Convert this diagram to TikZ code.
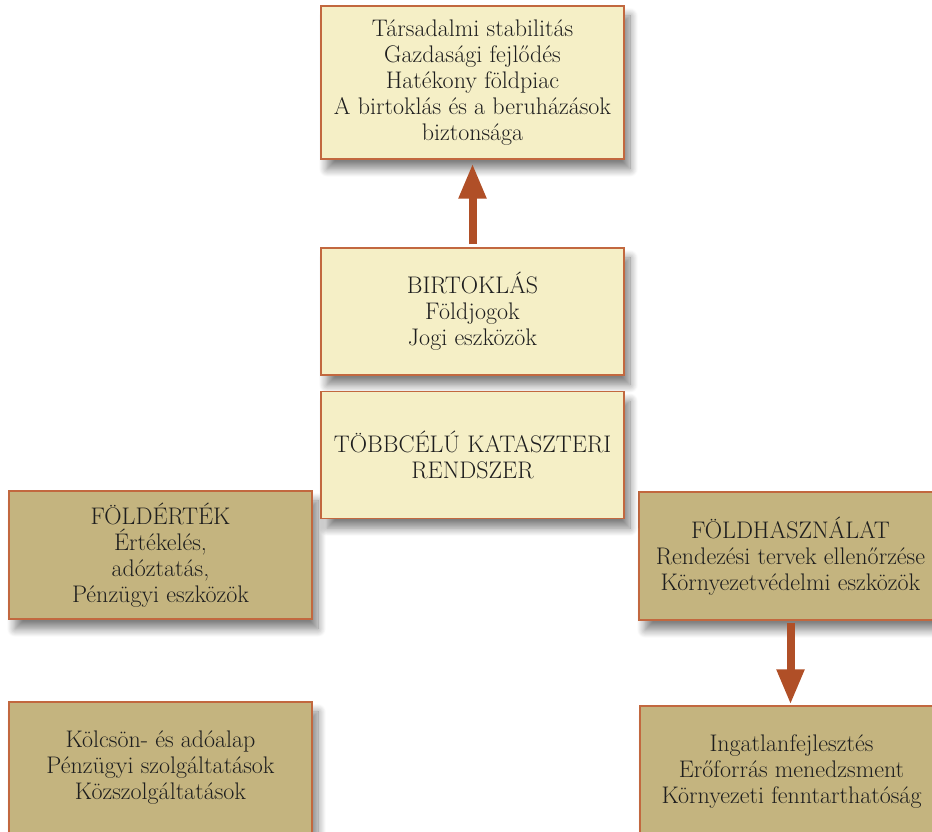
\documentclass[tikz,border=0pt]{standalone}
\usepackage{amsmath,amssymb}
\usepackage{tikz}
\usetikzlibrary{positioning,arrows.meta,shadows.blur}
\definecolor{lightbox}{HTML}{F5EFC6}
\definecolor{tanbox}{HTML}{C4B47F}
\definecolor{boxline}{HTML}{C2683F}
\definecolor{arrowcol}{HTML}{B04F27}
\definecolor{textcol}{HTML}{1E1E1E}
\begin{document}
\begin{tikzpicture}[x=1pt, y=1pt, node distance=15pt,
	box/.style={rectangle, draw=boxline, line width=1.2pt, align=center,
		minimum width=303pt, text=textcol, font=\fontsize{24}{26}\selectfont,
		blur shadow={shadow xshift=6pt, shadow yshift=-10pt, shadow blur radius=8pt,
			shadow blur steps=12, shadow opacity=50}},
	light box/.style={box, fill=lightbox},
	tan box/.style={box, fill=tanbox},
	big arrow/.style={draw=arrowcol, line width=8pt, -{Triangle[width=26pt, length=35pt]}}]
	\useasboundingbox (0,0) rectangle (932,832);
	\clip (0,0) rectangle (932,832);
	
	\node[tan box, minimum height=128pt] (ertek) at (160.5,277)
		{FÖLDÉRTÉK\\ Értékelés,\\ adóztatás,\\ Pénzügyi eszközök};
	\node[tan box, minimum height=128pt] (hasznalat) at (790.5,276)
		{FÖLDHASZNÁLAT\\ Rendezési tervek ellenőrzése\\ Környezetvédelmi eszközök};
	\node[tan box, minimum height=132pt] (kolcson) at (160.5,64)
		{Kölcsön- és adóalap\\ Pénzügyi szolgáltatások\\ Közszolgáltatások};
	\node[tan box, minimum height=132pt] (ingatlan) at (791.5,60)
		{Ingatlanfejlesztés\\ Erőforrás menedzsment\\ Környezeti fenntarthatóság};
	
	\node[light box, minimum height=153pt] (cel) at (472.5,749.5)
		{Társadalmi stabilitás\\ Gazdasági fejlődés\\ Hatékony földpiac\\
		 A birtoklás és a beruházások\\ biztonsága};
	\node[light box, minimum height=127pt] (birtok) at (472.5,520.5)
		{BIRTOKLÁS\\ Földjogok\\ Jogi eszközök};
	\node[light box, minimum height=127pt] (kataszter) [below=of birtok]
		{TÖBBCÉLÚ KATASZTERI\\ RENDSZER};
	
	\draw[big arrow] ([yshift=3pt]birtok.north) -- ([yshift=-4pt]cel.south);
	\draw[big arrow] ([yshift=-2pt]hasznalat.south) -- ([yshift=1pt]hasznalat.south |- ingatlan.north);
\end{tikzpicture}
\end{document}
